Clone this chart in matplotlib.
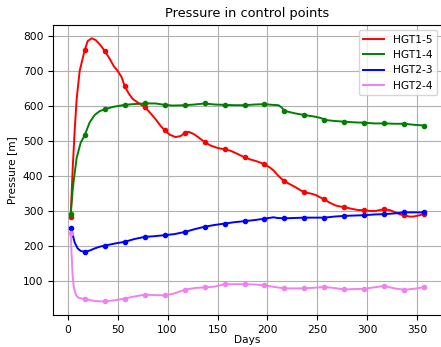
import numpy as np
import matplotlib
matplotlib.use("Agg")
import matplotlib.pyplot as plt

# days where the dots sit
marker_days = [3, 17, 37, 57, 77, 97, 117, 137, 157, 177, 197, 217, 237, 257, 277, 297, 317, 337, 357]

# HGT1-5
red_days = [3, 5, 7, 9, 12, 17, 20, 24, 28, 33, 37, 42, 46, 50, 54, 57, 61, 65, 70, 77, 82, 88, 93, 97,
            102, 108, 113, 117, 121, 126, 131, 137, 143, 150, 157, 163, 170, 177, 183, 188, 193, 197,
            202, 206, 210, 214, 217, 222, 228, 232, 237, 243, 248, 252, 257, 262, 268, 272, 277, 283,
            290, 297, 303, 308, 313, 317, 323, 328, 333, 337, 342, 346, 351, 357]
red_vals = [283, 420, 530, 620, 700, 759, 785, 793, 788, 773, 757, 735, 714, 700, 682, 657, 636, 620, 610, 597,
            582, 562, 543, 531, 518, 511, 514, 522, 526, 520, 510, 497, 487, 480, 476, 472, 463, 453, 447,
            443, 438, 433, 425, 416, 403, 392, 385, 377, 368, 361, 353, 350, 346, 340, 333, 324, 316, 313,
            311, 307, 303, 302, 300, 300, 303, 305, 302, 296, 290, 288, 284, 284, 287, 292]

# HGT1-4
green_days = [3, 5, 6, 9, 13, 17, 22, 27, 32, 37, 45, 57, 65, 77, 88, 97, 105, 117, 127, 137, 147, 157, 167,
              177, 187, 197, 205, 211, 214, 217, 227, 237, 248, 254, 257, 267, 277, 287, 297, 307, 317,
              327, 337, 347, 357]
green_vals = [290, 360, 386, 452, 495, 516, 553, 574, 585, 590, 597, 603, 605, 607, 607, 603, 601, 602, 604,
              607, 604, 603, 602, 602, 604, 605, 603, 602, 596, 586, 579, 574, 569, 565, 560, 557, 555, 553,
              552, 550, 550, 549, 549, 546, 544]

# HGT2-3
blue_days = [3, 5, 7, 10, 13, 17, 22, 27, 32, 37, 47, 57, 67, 77, 87, 97, 107, 117, 127, 137, 147, 157, 167,
             177, 187, 197, 206, 210, 217, 227, 237, 247, 257, 267, 277, 287, 297, 307, 317, 327, 337, 347, 357]
blue_vals = [252, 232, 210, 193, 186, 183, 187, 193, 198, 201, 207, 212, 220, 226, 228, 231, 234, 240, 248,
             255, 260, 264, 268, 271, 274, 278, 282, 280, 279, 280, 281, 281, 281, 284, 286, 287, 288, 290,
             291, 293, 296, 296, 296]

# HGT2-4
pink_days = [3, 4, 5, 6, 7.5, 9, 11, 14, 17, 22, 27, 32, 37, 47, 57, 67, 77, 87, 97, 106, 112, 117, 127, 137,
             147, 157, 167, 177, 187, 197, 207, 217, 227, 237, 247, 257, 267, 277, 287, 297, 307, 317, 327,
             337, 347, 357]
pink_vals = [238, 170, 114, 85, 67, 57, 52, 50, 50, 46, 43, 42, 42, 45, 50, 56, 61, 60, 59, 64, 70, 75, 80, 82,
             84, 91, 91, 91, 90, 88, 83, 79, 79, 79, 81, 83, 80, 76, 77, 78, 82, 86, 79, 75, 78, 83]

series = [
    ("HGT1-5", red_days, red_vals, "red"),
    ("HGT1-4", green_days, green_vals, "green"),
    ("HGT2-3", blue_days, blue_vals, "blue"),
    ("HGT2-4", pink_days, pink_vals, "violet"),
]

plt.rcParams["font.size"] = 7.7

fig = plt.figure(figsize=(4.41, 3.47), dpi=100)
ax = fig.add_axes([53 / 441, 32 / 347, 389 / 441, 290 / 347])

for name, days, vals, col in series:
    days = np.array(days)
    vals = np.array(vals)
    ax.plot(days, vals, color=col, lw=1.4, label=name)
    mask = np.isin(days, marker_days)
    ax.plot(days[mask], vals[mask], "o", color=col, ms=3)

ax.set_xlim(-14.7, 374.7)
ax.set_ylim(3, 831)
ax.set_xticks([0, 50, 100, 150, 200, 250, 300, 350])
ax.set_yticks([100, 200, 300, 400, 500, 600, 700, 800])
ax.grid(True)
ax.set_title("Pressure in control points", fontsize=9.3)
ax.set_xlabel("Days", labelpad=0.5)
ax.set_ylabel("Pressure [m]")
ax.legend(loc="upper right")

fig.savefig("out.png", dpi=100)
